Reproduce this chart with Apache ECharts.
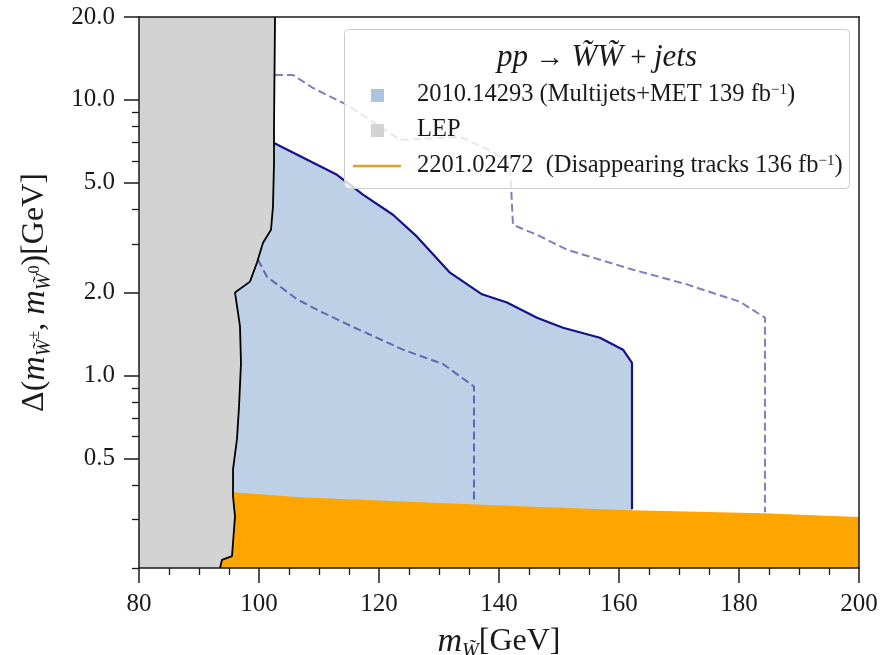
<!DOCTYPE html>
<html>
<head>
<meta charset="utf-8">
<script src="https://cdn.jsdelivr.net/npm/echarts@6/dist/echarts.min.js"></script>
<style>
  html, body { margin: 0; padding: 0; background: #ffffff; }
  #chart { width: 884px; height: 655px; }
</style>
</head>
<body>
<div id="chart"></div>
<script>
// LEP exclusion boundary: wino mass [GeV] vs mass splitting [GeV]
const lepMass  = [102.67, 102.5, 102.5, 102.33, 102.0, 100.67, 99.67, 98.5, 96.0, 96.83, 97.0, 96.67, 96.33, 95.67, 95.67, 96.0, 95.5, 93.83, 93.5];
const lepSplit = [20, 7.79, 5.91, 4.10, 3.38, 3.03, 2.57, 2.19, 2.0, 1.51, 1.11, 0.772, 0.587, 0.456, 0.364, 0.308, 0.221, 0.214, 0.2];

// Multijets+MET (2010.14293) observed contour
const mjMass  = [102.5, 113.0, 117.33, 122.33, 126.33, 131.83, 137.17, 141.33, 146.33, 150.67, 156.83, 160.67, 162.17, 162.17];
const mjSplit = [6.98, 5.35, 4.53, 3.83, 3.19, 2.36, 1.97, 1.84, 1.62, 1.49, 1.37, 1.24, 1.11, 0.327];

// Expected band edges (dashed)
const expLowMass   = [99.83, 101.33, 106.33, 110.17, 115.67, 124.0, 130.67, 135.83, 135.83];
const expLowSplit  = [2.63, 2.28, 1.89, 1.71, 1.50, 1.24, 1.10, 0.912, 0.347];
const expHighMass  = [102.67, 105.67, 109.0, 114.67, 119.0, 123.5, 133.5, 139.0, 141.83, 142.33, 146.33, 151.33, 162.33, 171.33, 180.17, 184.33, 184.33];
const expHighSplit = [12.32, 12.32, 11.05, 9.59, 8.32, 7.16, 7.34, 6.48, 5.81, 3.52, 3.24, 2.86, 2.42, 2.14, 1.85, 1.62, 0.319];

// Disappearing tracks (2201.02472) upper edge
const dtMass  = [80, 95.67, 106.83, 135.17, 146.83, 162.0, 184.0, 200];
const dtSplit = [0.38, 0.377, 0.361, 0.341, 0.333, 0.324, 0.316, 0.306];

// Axis ranges and ticks
const massRange = [80, 200];
const splitRange = [0.2, 20];
const yMajorTicks = [0.5, 1, 2, 5, 10, 20];
const yMinorTicks = [0.2, 0.3, 0.4, 0.6, 0.7, 0.8, 0.9, 3, 4, 6, 7, 8, 9];

const SERIF = '"Liberation Serif", "DejaVu Serif", serif';
const INK = '#1a1a1a';

const zip = (xs, ys) => xs.map((x, i) => [x, ys[i]]);

// closed regions
const lepRegion = [[massRange[0], splitRange[1]]].concat(zip(lepMass, lepSplit), [[massRange[0], splitRange[0]]]);
const mjRegion = [[massRange[0], mjSplit[0]]].concat(zip(mjMass, mjSplit),
  [[mjMass[mjMass.length - 1], splitRange[0]], [massRange[0], splitRange[0]]]);
const dtRegion = zip(dtMass, dtSplit).concat([[massRange[1], splitRange[0]], [massRange[0], splitRange[0]]]);

function regionSeries(name, pts, fill, z) {
  return {
    type: 'custom', name: name, xAxisIndex: 0, yAxisIndex: 0, z: z,
    data: pts, encode: { x: 0, y: 1 }, silent: true,
    renderItem: function (params, api) {
      if (params.dataIndex !== 0) return null;
      const points = pts.map(p => api.coord(p));
      return { type: 'polygon', shape: { points: points }, style: { fill: fill, stroke: null } };
    }
  };
}

function lineSeries(name, pts, style, z) {
  return {
    type: 'line', name: name, xAxisIndex: 0, yAxisIndex: 0, z: z,
    data: pts, symbol: 'none', showSymbol: false, smooth: false, silent: true,
    lineStyle: style
  };
}

const chart = echarts.init(document.getElementById('chart'), null, { renderer: 'canvas' });

const gridBox = { left: 139, right: 25, top: 17, bottom: 87, containLabel: false, outerBoundsMode: 'none' };

const nameRich = {
  i: { fontFamily: SERIF, fontStyle: 'italic', fontSize: 34, color: INK, lineHeight: 40 },
  s: { fontFamily: SERIF, fontStyle: 'italic', fontSize: 20, color: INK, verticalAlign: 'bottom' },
  p: { fontFamily: SERIF, fontSize: 16, color: INK, verticalAlign: 'middle' },
  r: { fontFamily: SERIF, fontSize: 32, color: INK, lineHeight: 40 }
};

const option = {
  animation: false,
  backgroundColor: '#ffffff',
  grid: [Object.assign({}, gridBox), Object.assign({}, gridBox)],
  xAxis: [
    {
      gridIndex: 0, type: 'value', position: 'bottom', min: massRange[0], max: massRange[1], interval: 20, z: 10,
      axisLine: { show: true, lineStyle: { color: INK, width: 1.5 } },
      axisTick: { show: true, inside: false, length: 15, lineStyle: { color: INK, width: 1.5 } },
      minorTick: { show: true, splitNumber: 4, length: 7, lineStyle: { color: INK, width: 1.3 } },
      splitLine: { show: false },
      axisLabel: { show: true, margin: 24, color: INK, fontFamily: SERIF, fontSize: 25 },
      name: '{i|m}{s|W̃}{r|[GeV]}',
      nameLocation: 'middle', nameGap: 44,
      nameTextStyle: { color: INK, fontFamily: SERIF, fontSize: 32, lineHeight: 40, rich: nameRich }
    },
    {
      gridIndex: 0, type: 'value', position: 'top', min: massRange[0], max: massRange[1], z: 10,
      axisLine: { show: true, lineStyle: { color: INK, width: 1.5 } },
      axisTick: { show: false }, axisLabel: { show: false }, splitLine: { show: false }
    },
    {
      gridIndex: 1, type: 'value', min: massRange[0], max: massRange[1], show: false
    }
  ],
  yAxis: [
    {
      gridIndex: 0, type: 'log', logBase: 10, position: 'left', min: splitRange[0], max: splitRange[1], z: 10,
      axisLine: { show: true, lineStyle: { color: INK, width: 1.5 } },
      axisTick: { show: true, inside: false, length: 15, customValues: yMajorTicks, lineStyle: { color: INK, width: 1.5 } },
      splitLine: { show: false },
      axisLabel: {
        show: true, margin: 24, customValues: yMajorTicks, color: INK, fontFamily: SERIF, fontSize: 25,
        formatter: v => Number(v).toFixed(1)
      },
      name: '{r|Δ(}{i|m}{s|W̃}{p|±}{r|, }{i|m}{s|W̃}{p|0}{r|)[GeV]}',
      nameLocation: 'middle', nameRotate: 90, nameGap: 84,
      nameTextStyle: { color: INK, fontFamily: SERIF, fontSize: 32, lineHeight: 40, rich: nameRich }
    },
    {
      gridIndex: 0, type: 'log', logBase: 10, position: 'right', min: splitRange[0], max: splitRange[1], z: 10,
      axisLine: { show: true, lineStyle: { color: INK, width: 1.5 } },
      axisTick: { show: false }, axisLabel: { show: false }, splitLine: { show: false }
    },
    {
      gridIndex: 1, type: 'log', logBase: 10, position: 'left', min: splitRange[0], max: splitRange[1], z: 10,
      axisLine: { show: false },
      axisTick: { show: true, inside: false, length: 7, customValues: yMinorTicks, lineStyle: { color: INK, width: 1.3 } },
      axisLabel: { show: false }, splitLine: { show: false }
    }
  ],
  series: [
    regionSeries('2010.14293 (Multijets+MET 139 fb⁻¹)', mjRegion, '#bdd0e6', 1),
    lineSeries('expected (−1σ)', zip(expLowMass, expLowSplit), { color: 'rgba(0,0,128,0.5)', width: 2, type: [8, 4] }, 3),
    lineSeries('expected (+1σ)', zip(expHighMass, expHighSplit), { color: 'rgba(0,0,128,0.5)', width: 2, type: [8, 4] }, 3),
    lineSeries('observed', zip(mjMass, mjSplit), { color: '#12128a', width: 2.2 }, 4),
    regionSeries('2201.02472 (Disappearing tracks 136 fb⁻¹)', dtRegion, '#ffa500', 5),
    regionSeries('LEP', lepRegion, '#d3d3d3', 6),
    lineSeries('LEP edge', zip(lepMass, lepSplit), { color: '#000000', width: 1.8 }, 7)
  ],
  graphic: {
    elements: [
      {
        type: 'rect', z: 100, shape: { x: 344.5, y: 29.5, width: 505, height: 159, r: 4 },
        style: { fill: 'rgba(255,255,255,0.8)', stroke: '#cccccc', lineWidth: 1 }
      },
      {
        type: 'text', z: 101, x: 597, y: 58,
        style: {
          text: '{i|pp} → {i|W̃W̃} + {i|jets}',
          fontFamily: SERIF, fontSize: 29, fill: INK, align: 'center', verticalAlign: 'middle',
          rich: { i: { fontFamily: SERIF, fontStyle: 'italic', fontSize: 31, fill: INK } }
        }
      },
      { type: 'rect', z: 101, shape: { x: 371, y: 89, width: 13, height: 13 }, style: { fill: '#adc3df' } },
      { type: 'rect', z: 101, shape: { x: 371, y: 124, width: 13, height: 13 }, style: { fill: '#d3d3d3' } },
      { type: 'line', z: 101, shape: { x1: 353, y1: 166, x2: 401, y2: 166 }, style: { stroke: '#e3a21a', lineWidth: 2.5 } },
      {
        type: 'text', z: 101, x: 417, y: 95,
        style: {
          text: '2010.14293 (Multijets+MET 139 fb{s|−1})',
          fontFamily: SERIF, fontSize: 24.5, fill: INK, align: 'left', verticalAlign: 'middle',
          rich: { s: { fontFamily: SERIF, fontSize: 15, fill: INK, verticalAlign: 'top' } }
        }
      },
      {
        type: 'text', z: 101, x: 417, y: 130,
        style: { text: 'LEP', fontFamily: SERIF, fontSize: 24.5, fill: INK, align: 'left', verticalAlign: 'middle' }
      },
      {
        type: 'text', z: 101, x: 417, y: 166,
        style: {
          text: '2201.02472  (Disappearing tracks 136 fb{s|−1})',
          fontFamily: SERIF, fontSize: 24.5, fill: INK, align: 'left', verticalAlign: 'middle',
          rich: { s: { fontFamily: SERIF, fontSize: 15, fill: INK, verticalAlign: 'top' } }
        }
      }
    ]
  }
};

chart.setOption(option);
</script>
</body>
</html>
